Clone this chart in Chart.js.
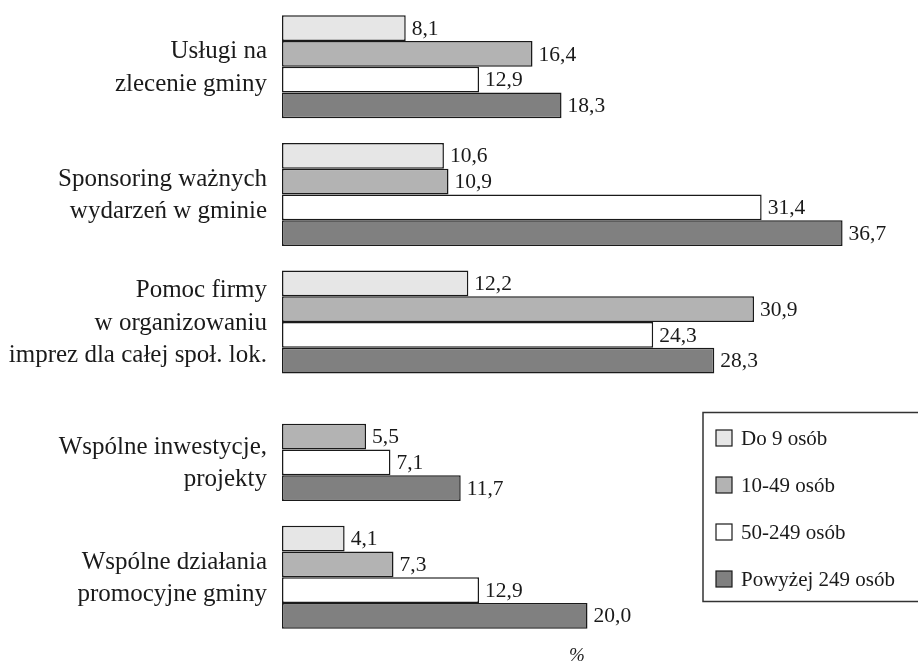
<!DOCTYPE html>
<html lang="pl">
<head>
<meta charset="utf-8">
<title>Formy współpracy firm z gminą</title>
<script src="https://cdn.jsdelivr.net/npm/chart.js@4/dist/chart.umd.min.js"></script>
<style>
  html, body { margin: 0; padding: 0; background: #ffffff; }
  #wrap { width: 918px; height: 665px; }
</style>
</head>
<body>
<div id="wrap"><canvas id="chart" width="918" height="665"></canvas></div>
<script>
// Categories (multi-line labels)
const categories = [
  ['Usługi na', 'zlecenie gminy'],
  ['Sponsoring ważnych', 'wydarzeń w gminie'],
  ['Pomoc firmy', 'w organizowaniu', 'imprez dla całej społ. lok.'],
  ['Wspólne inwestycje,', 'projekty'],
  ['Wspólne działania', 'promocyjne gminy']
];

// Series: company size groups (%)
const seriesNames = ['Do 9 osób', '10-49 osób', '50-249 osób', 'Powyżej 249 osób'];
const do9 = [8.1, 10.6, 12.2, null, 4.1];
const od10do49 = [16.4, 10.9, 30.9, 5.5, 7.3];
const od50do249 = [12.9, 31.4, 24.3, 7.1, 12.9];
const powyzej249 = [18.3, 36.7, 28.3, 11.7, 20.0];
const seriesColors = ['#e6e6e6', '#b3b3b3', '#ffffff', '#808080'];

const axisUnit = '%';
const FONT = "'Liberation Serif', 'Times New Roman', serif";
const INK = '#1a1a1a';

const fmt = v => v.toFixed(1).replace('.', ',');

// Value labels at the end of each bar
const valueLabels = {
  id: 'valueLabels',
  afterDatasetsDraw(chart) {
    const ctx = chart.ctx;
    ctx.save();
    ctx.font = '21.5px ' + FONT;
    ctx.fillStyle = INK;
    ctx.textAlign = 'left';
    ctx.textBaseline = 'middle';
    chart.data.datasets.forEach((ds, i) => {
      const meta = chart.getDatasetMeta(i);
      meta.data.forEach((el, j) => {
        const v = ds.data[j];
        if (v === null || v === undefined) return;
        ctx.fillText(fmt(v), el.x + 6, el.y + 1);
      });
    });
    ctx.restore();
  }
};

// Center each category label on the bars actually drawn in its group
const centerLabelsOnBars = {
  id: 'centerLabelsOnBars',
  beforeDraw(chart) {
    const ys = chart.scales.y;
    const items = ys.getLabelItems();
    items.forEach((item, idx) => {
      let top = Infinity, bottom = -Infinity;
      chart.data.datasets.forEach((ds, i) => {
        const v = ds.data[idx];
        if (v === null || v === undefined) return;
        const el = chart.getDatasetMeta(i).data[idx];
        top = Math.min(top, el.y - el.height / 2);
        bottom = Math.max(bottom, el.y + el.height / 2);
      });
      if (isFinite(top)) {
        item.options.translation[1] = (top + bottom) / 2 + 1;
      }
    });
  }
};

// Boxed legend in the lower right corner (runs off the right edge)
const boxLegend = {
  id: 'boxLegend',
  afterDraw(chart) {
    const ctx = chart.ctx;
    ctx.save();
    ctx.strokeStyle = '#333333';
    ctx.lineWidth = 1.5;
    ctx.strokeRect(703, 412.5, 230, 189);
    ctx.font = '21px ' + FONT;
    ctx.textBaseline = 'middle';
    ctx.textAlign = 'left';
    chart.data.datasets.forEach((ds, i) => {
      const y = 438 + i * 47;
      ctx.fillStyle = ds.backgroundColor;
      ctx.fillRect(716, y - 8, 16, 16);
      ctx.lineWidth = 1.2;
      ctx.strokeStyle = INK;
      ctx.strokeRect(716, y - 8, 16, 16);
      ctx.fillStyle = INK;
      ctx.fillText(ds.label, 741, y + 1);
    });
    ctx.restore();
  }
};

// Unit label under the bars
const unitLabel = {
  id: 'unitLabel',
  afterDraw(chart) {
    const ctx = chart.ctx;
    const xs = chart.scales.x;
    ctx.save();
    ctx.font = 'italic 19px ' + FONT;
    ctx.fillStyle = INK;
    ctx.textAlign = 'center';
    ctx.textBaseline = 'middle';
    ctx.fillText(axisUnit, xs.getPixelForValue(19.3), 656);
    ctx.restore();
  }
};

const seriesData = [do9, od10do49, od50do249, powyzej249];

new Chart(document.getElementById('chart'), {
  type: 'bar',
  data: {
    labels: categories,
    datasets: seriesNames.map((name, i) => ({
      label: name,
      data: seriesData[i],
      backgroundColor: seriesColors[i],
      borderColor: INK,
      borderWidth: 1.5,
      borderSkipped: false,
      categoryPercentage: 0.807,
      barPercentage: 1.0
    }))
  },
  options: {
    indexAxis: 'y',
    responsive: false,
    animation: false,
    layout: { padding: { top: 3, bottom: 24, left: 0, right: 25 } },
    plugins: {
      legend: { display: false },
      tooltip: { enabled: false }
    },
    scales: {
      x: {
        display: false,
        min: 0,
        max: 40
      },
      y: {
        grid: { display: false, drawTicks: false },
        border: { display: false },
        ticks: {
          color: INK,
          padding: 15,
          font: { family: FONT, size: 25, lineHeight: 1.3 }
        },
        afterFit(scale) {
          scale.width = 282;
          scale.paddingTop = 0;
          scale.paddingBottom = 0;
        }
      }
    }
  },
  plugins: [centerLabelsOnBars, valueLabels, boxLegend, unitLabel]
});
</script>
</body>
</html>
